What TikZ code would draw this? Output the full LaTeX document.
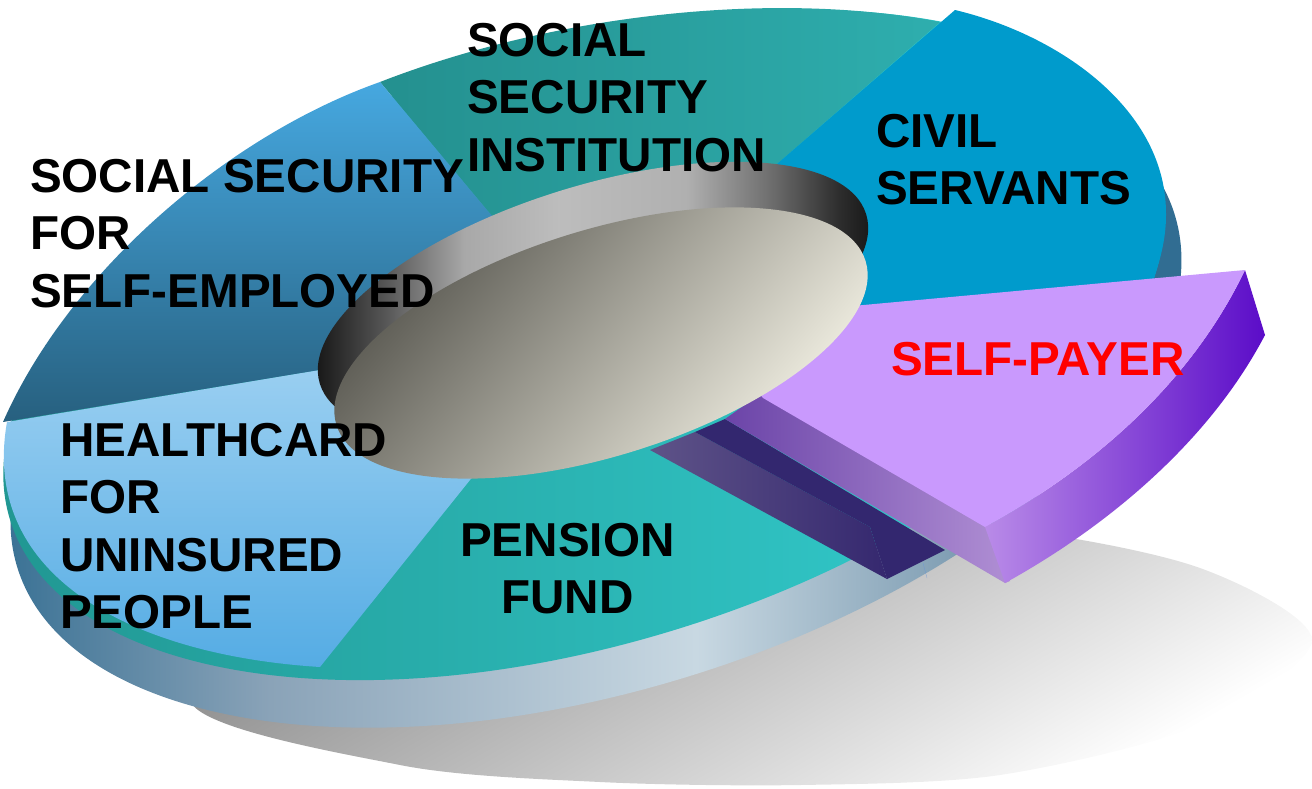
\documentclass[tikz,border=0pt]{standalone}
\usepackage{fontspec}
\setmainfont{Liberation Sans}
\definecolor{bandA}{HTML}{2F6B90}
\definecolor{bandB}{HTML}{8AA3B8}
\definecolor{bandC}{HTML}{C8D8E2}
\definecolor{bandD}{HTML}{82A0B5}
\definecolor{bandE}{HTML}{316D92}
\pgfdeclarehorizontalshading{bandshade}{100bp}{color(0bp)=(bandA); color(25bp)=(bandA); color(37bp)=(bandB); color(54bp)=(bandC); color(64bp)=(bandD); color(70bp)=(bandE); color(100bp)=(bandE)}
\pgfdeclarehorizontalshading{hubshade}{100bp}{rgb(0bp)=(.04,.04,.04); rgb(25bp)=(.04,.04,.04); rgb(32bp)=(.33,.33,.33); rgb(39bp)=(.66,.66,.66); rgb(47bp)=(.74,.74,.74); rgb(58bp)=(.69,.69,.69); rgb(65bp)=(.44,.44,.44); rgb(71bp)=(.18,.18,.18); rgb(75bp)=(.06,.06,.06); rgb(100bp)=(.06,.06,.06)}
\tikzset{
  lbl/.style={anchor=north west,inner sep=0pt,align=left,font=\fontsize{47.6}{57.5}\selectfont\bfseries},
}
\begin{document}
\begin{tikzpicture}[x=1pt,y=-1pt]
\useasboundingbox (0,0) rectangle (1312,788);
% shadow
\shade[top color=black!48,bottom color=white,shading angle=30] plot[smooth cycle] coordinates {(190,700) (400,765) (600,782) (800,785) (1000,775) (1200,725) (1312,640) (1200,568) (1000,528) (700,510) (350,560)};
% disk body
\shade[shading=bandshade] (596,391) ellipse [x radius=605pt,y radius=300pt,rotate=16.9];
\shade[left color={rgb,255:red,32;green,149;blue,144},right color={rgb,255:red,54;green,213;blue,216}] (584,345) ellipse [x radius=600pt,y radius=299pt,rotate=16.9];
% slices
\shade[left color={rgb,255:red,36;green,144;blue,143},right color={rgb,255:red,46;green,174;blue,174}] (380,82) .. controls (560,12) and (780,-9) .. (940,22) -- (770,170) -- (600,340) -- (487,210) -- cycle;
\shade[top color={rgb,255:red,70;green,168;blue,224},bottom color={rgb,255:red,39;green,96;blue,127}] (380,82) .. controls (230,135) and (70,270) .. (3,422) -- (320,370) -- (600,340) -- (487,210) -- cycle;
\shade[top color={rgb,255:red,160;green,210;blue,242},bottom color={rgb,255:red,85;green,172;blue,228}] (7,422) -- (320,370) -- (600,340) -- (470,480) -- (320,667) .. controls (130,655) and (-20,575) .. (7,422) -- cycle;
\fill[fill={rgb,255:red,0;green,155;blue,204}] (955,10) .. controls (1060,35) and (1167,110) .. (1166,215) .. controls (1166,240) and (1160,260) .. (1152,285) -- (860,315) -- (700,300) -- (770,170) -- cycle;
% pulled out slice, dark part
\shade[left color={rgb,255:red,94;green,83;blue,136},right color={rgb,255:red,53;green,40;blue,111}] (650,450) -- (695,432) -- (870,527) -- (887,579) -- cycle;
\fill[fill={rgb,255:red,51;green,39;blue,111}] (695,432) -- (725,419) -- (945,550) -- (887,579) -- (870,527) -- cycle;
\draw[very thin,color={rgb,255:red,106;green,150;blue,216}] (923,563) -- (927,578);
% pulled out slice
\shade[left color={rgb,255:red,107;green,68;blue,168},right color={rgb,255:red,176;green,143;blue,212}] (725,419) -- (763,392) -- (990,520) -- (1010,581) -- (1005,583) -- cycle;
\shade[left color={rgb,255:red,185;green,139;blue,232},right color={rgb,255:red,91;green,12;blue,200}] (985,527) .. controls (1090,470) and (1190,385) .. (1245,270) -- (1265,335) .. controls (1210,440) and (1110,525) .. (1005,583) -- cycle;
\fill[fill={rgb,255:red,201;green,153;blue,253}] (700,320) -- (1245,270) .. controls (1190,385) and (1090,470) .. (985,527) -- (763,398) -- cycle;
% hub
\shade[shading=hubshade] (593,299) ellipse [x radius=286pt,y radius=113pt,rotate=17.25];
\shade[top color={rgb,255:red,80;green,79;blue,72},bottom color={rgb,255:red,250;green,248;blue,235},shading angle=50] (601,343) ellipse [x radius=277pt,y radius=113pt,rotate=17.25];
% texts
\node[lbl] (institution) at (467,23) {SOCIAL\\SECURITY\\INSTITUTION};
\node[lbl] (civil) at (876,114) {CIVIL\\SERVANTS};
\node[lbl] (selfemployed) at (30,159) {SOCIAL SECURITY\\FOR\\SELF-EMPLOYED};
\node[lbl] (healthcard) at (60,423) {HEALTHCARD\\FOR\\UNINSURED\\PEOPLE};
\node[lbl,align=center] (pension) at (460,523) {PENSION\\FUND};
\node[lbl,red] (selfpayer) at (891,342) {SELF-PAYER};
\end{tikzpicture}
\end{document}
